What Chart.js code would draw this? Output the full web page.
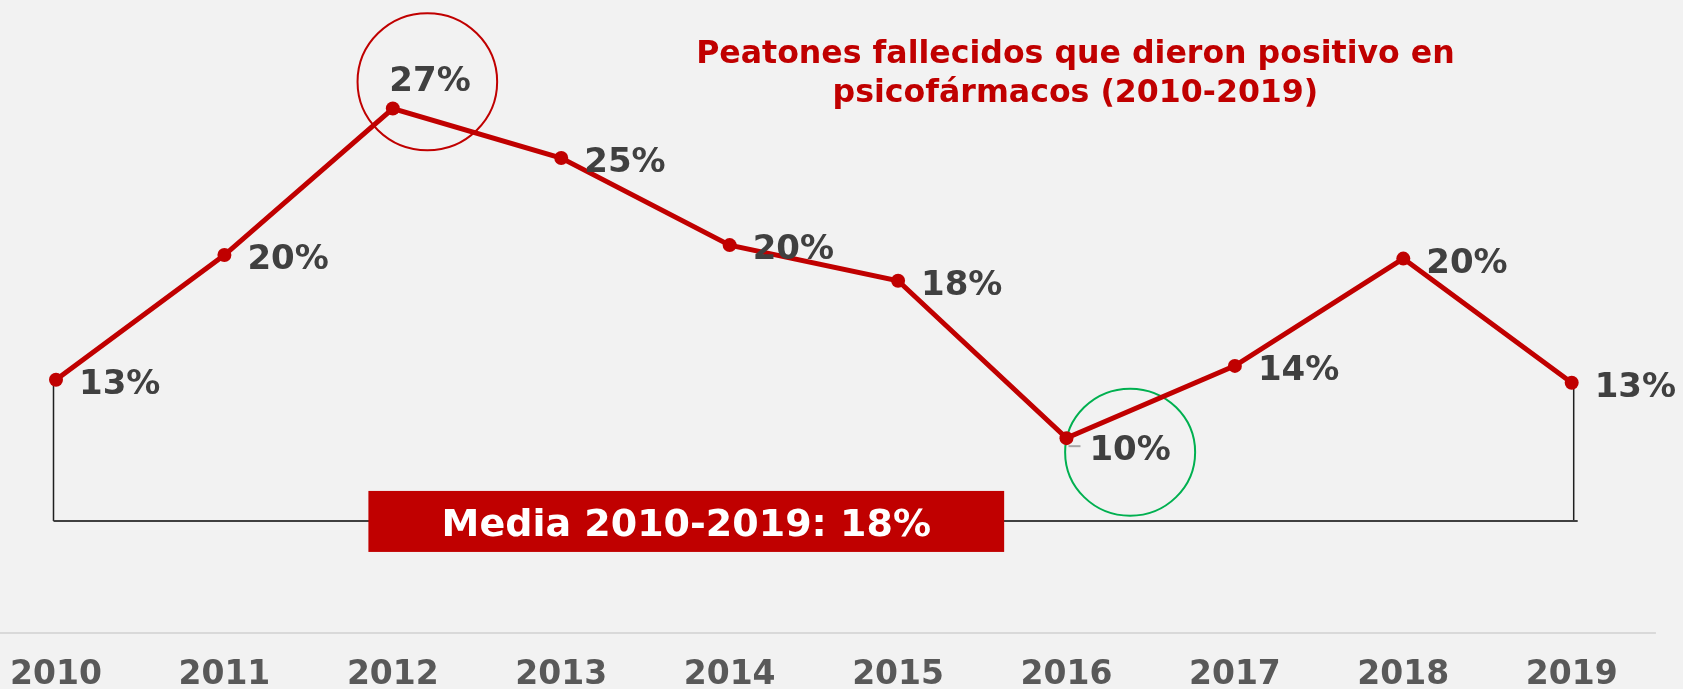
<!DOCTYPE html>
<html>
<head>
<meta charset="utf-8">
<script src="https://cdn.jsdelivr.net/npm/chart.js@4.4.1/dist/chart.umd.min.js"></script>
<style>
  html, body { margin: 0; padding: 0; background: #F2F2F2; }
  canvas { display: block; }
</style>
</head>
<body>
<canvas id="c" width="1683" height="689"></canvas>
<script>
// ---- data ----
const years = ['2010', '2011', '2012', '2013', '2014', '2015', '2016', '2017', '2018', '2019'];
const positiveShare = [13.4, 19.7, 27.1, 24.6, 20.2, 18.4, 10.45, 14.1, 19.52, 13.25];
const titleLines = ['Peatones fallecidos que dieron positivo en', 'psicofármacos (2010-2019)'];
const meanPrefix = 'Media 2010-2019: ';

// ---- annotation anchors (in scale units) ----
const bracketLevel = 6.27;
const meanBoxSpan = { from: 1.855, to: 5.63 };
const maxCircleAt = { index: 2.205, value: 28.45 };
const minCircleAt = { index: 6.378, value: 9.74 };

const RED = '#C00000';
const FONT = '"DejaVu Sans", Verdana, sans-serif';

const meanValue = positiveShare.reduce((a, b) => a + b, 0) / positiveShare.length;
const maxIdx = positiveShare.indexOf(Math.max(...positiveShare));
const minIdx = positiveShare.indexOf(Math.min(...positiveShare));

const deco = {
  id: 'deco',
  beforeDatasetsDraw(chart) {
    const { ctx, scales: { x, y } } = chart;
    const last = years.length - 1;
    ctx.save();
    // x axis line
    const step = x.getPixelForValue(1) - x.getPixelForValue(0);
    ctx.strokeStyle = '#D9D9D9';
    ctx.lineWidth = 2;
    ctx.beginPath();
    ctx.moveTo(0, chart.chartArea.bottom);
    ctx.lineTo(x.getPixelForValue(last) + step / 2, chart.chartArea.bottom);
    ctx.stroke();

    // bracket
    const xl = x.getPixelForValue(0) - 2.5;
    const xr = x.getPixelForValue(last) + 2;
    const yb = y.getPixelForValue(bracketLevel);
    ctx.strokeStyle = '#1f1f1f';
    ctx.lineWidth = 1.5;
    ctx.beginPath();
    ctx.moveTo(xl, y.getPixelForValue(positiveShare[0]));
    ctx.lineTo(xl, yb);
    ctx.moveTo(xr, y.getPixelForValue(positiveShare[last]));
    ctx.lineTo(xr, yb);
    ctx.stroke();
    ctx.strokeStyle = '#404040';
    ctx.lineWidth = 2;
    ctx.beginPath();
    ctx.moveTo(xl, yb);
    ctx.lineTo(xr + 4, yb);
    ctx.stroke();

    // circles
    ctx.lineWidth = 2;
    ctx.strokeStyle = RED;
    ctx.beginPath();
    ctx.ellipse(x.getPixelForValue(maxCircleAt.index), y.getPixelForValue(maxCircleAt.value), 69.8, 68.5, 0, 0, Math.PI * 2);
    ctx.stroke();
    ctx.strokeStyle = '#00B050';
    ctx.beginPath();
    ctx.ellipse(x.getPixelForValue(minCircleAt.index), y.getPixelForValue(minCircleAt.value), 65, 63.5, 0, 0, Math.PI * 2);
    ctx.stroke();
    ctx.restore();
  },
  afterDatasetsDraw(chart) {
    const { ctx, scales: { x, y } } = chart;
    const meta = chart.getDatasetMeta(0);
    ctx.save();

    // mean box
    const bx1 = x.getPixelForValue(meanBoxSpan.from);
    const bx2 = x.getPixelForValue(meanBoxSpan.to);
    const bcy = y.getPixelForValue(bracketLevel) + 0.5;
    const bh = 61;
    ctx.fillStyle = RED;
    ctx.fillRect(bx1, bcy - bh / 2, bx2 - bx1, bh);
    ctx.fillStyle = '#FFFFFF';
    ctx.font = 'bold 38px ' + FONT;
    ctx.textAlign = 'center';
    ctx.textBaseline = 'alphabetic';
    ctx.fillText(meanPrefix + Math.round(meanValue) + '%', (bx1 + bx2) / 2, bcy + 15);

    // small leader dash at minimum
    const pm = meta.data[minIdx];
    ctx.strokeStyle = '#A6A6A6';
    ctx.lineWidth = 2;
    ctx.beginPath();
    ctx.moveTo(pm.x + 2, pm.y + 8);
    ctx.lineTo(pm.x + 14, pm.y + 8);
    ctx.stroke();

    // data labels
    ctx.font = 'bold 34px ' + FONT;
    ctx.fillStyle = '#404040';
    ctx.textAlign = 'left';
    meta.data.forEach((pt, i) => {
      let dx = 23, dy = 14;
      if (i === maxIdx) { dx = -3.5; dy = -18; }
      if (i === minIdx) { dy = 21.6; }
      ctx.fillText(Math.round(positiveShare[i]) + '%', pt.x + dx, pt.y + dy);
    });

    // title
    ctx.font = 'bold 31.6px ' + FONT;
    ctx.fillStyle = RED;
    ctx.textAlign = 'center';
    const tx = chart.width * 0.639;
    ctx.fillText(titleLines[0], tx, 63);
    ctx.fillText(titleLines[1], tx, 101.5);
    ctx.restore();
  }
};

new Chart(document.getElementById('c'), {
  type: 'line',
  data: {
    labels: years,
    datasets: [{
      data: positiveShare,
      borderColor: RED,
      borderWidth: 5,
      backgroundColor: RED,
      pointBackgroundColor: RED,
      pointBorderWidth: 0,
      pointRadius: 7,
      tension: 0,
      clip: false
    }]
  },
  options: {
    responsive: false,
    animation: false,
    devicePixelRatio: 1,
    layout: { autoPadding: false, padding: { left: 56, right: 111.3, top: 0, bottom: 0 } },
    plugins: { legend: { display: false }, tooltip: { enabled: false }, title: { display: false } },
    scales: {
      x: {
        offset: false,
        grid: { display: false, drawTicks: false },
        border: { display: false },
        ticks: {
          color: '#595959',
          font: { family: FONT, size: 33, weight: 'bold', lineHeight: 2.545 },
          padding: 0,
          maxRotation: 0,
          autoSkip: false
        },
        afterFit(scale) { scale.height = 56; }
      },
      y: {
        display: false,
        min: 0.61,
        max: 32.58
      }
    }
  },
  plugins: [deco]
});
</script>
</body>
</html>
